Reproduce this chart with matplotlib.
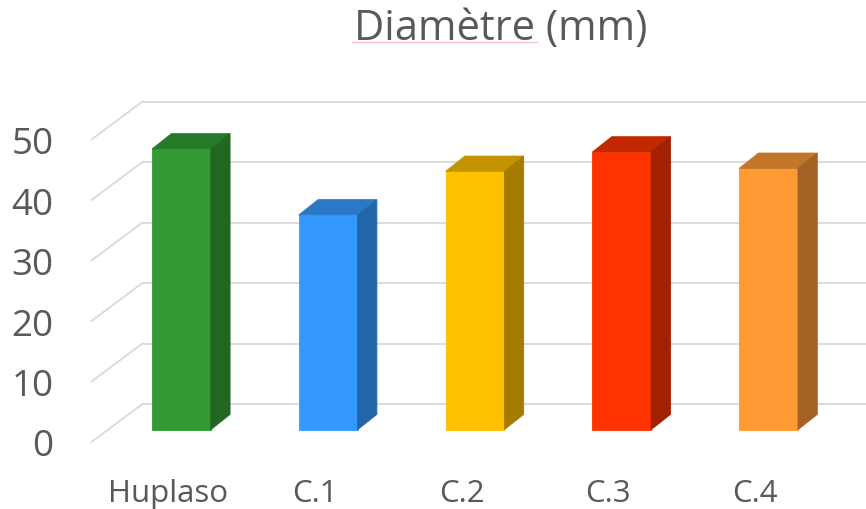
import matplotlib
matplotlib.use("Agg")
import matplotlib.pyplot as plt
from matplotlib.patches import Polygon
from matplotlib.lines import Line2D
from matplotlib.transforms import IdentityTransform

# Data
categories = ["Huplaso", "C.1", "C.2", "C.3", "C.4"]
diameters = [46.4, 35.5, 42.7, 45.9, 43.2]
y_ticks = [0, 10, 20, 30, 40, 50]

front_colors = ["#339933", "#3399ff", "#ffc000", "#ff3300", "#ff9933"]
top_colors = ["#27792a", "#2b79c6", "#c39300", "#c32800", "#c3752a"]
side_colors = ["#226622", "#2265a8", "#a57c00", "#a32000", "#a36223"]

W, H = 866, 510
fig = plt.figure(figsize=(W / 100, H / 100), dpi=100)
fig.patch.set_facecolor("white")

# Axes = the plane holding the front faces of the columns
ax = fig.add_axes([108 / W, 79.3 / H, (842 - 108) / W, 302.5 / H])
ax.set_xlim(-0.5, 4.5)
ax.set_ylim(0, 50)
ax.axis("off")

# Oblique depth shifts in pixels (x right, y up)
FLOOR_FRONT = (-16.5, -12.3)
BAR_DEPTH = (19.3, 15.3)
BACK_WALL = (34.5, 25.7)
BAR_WIDTH = 0.40

GRID = "#d9d9d9"
TEXT = "#595959"
FONT = "Open Sans"


def proj(x, y, shift=(0.0, 0.0)):
    px, py = ax.transData.transform((x, y))
    return (px + shift[0], py + shift[1])


def add_poly(points, color, z):
    fig.add_artist(Polygon(points, closed=True, facecolor=color, edgecolor=color,
                           linewidth=0.6, transform=IdentityTransform(), zorder=z))


def add_line(p0, p1):
    fig.add_artist(Line2D([p0[0], p1[0]], [p0[1], p1[1]], color=GRID, linewidth=1.3,
                          transform=IdentityTransform(), zorder=1))


# Back wall gridlines and left wall diagonals
for v in y_ticks:
    back_left = proj(-0.5, v, BACK_WALL)
    front_left = proj(-0.5, v, FLOOR_FRONT)
    back_right = proj(4.7, v, BACK_WALL)
    add_line(back_left, back_right)
    add_line(front_left, back_left)
    fig.text((front_left[0] - 38) / W, front_left[1] / H, f"{v}", ha="right",
             va="center_baseline", fontsize=26.5, color=TEXT, family=FONT)

# 3D columns
for i, (val, fc, tc, sc) in enumerate(zip(diameters, front_colors, top_colors, side_colors)):
    x0, x1 = i - BAR_WIDTH / 2, i + BAR_WIDTH / 2
    fl, fr = proj(x0, 0), proj(x1, 0)
    tl, tr = proj(x0, val), proj(x1, val)
    btl, btr = proj(x0, val, BAR_DEPTH), proj(x1, val, BAR_DEPTH)
    bbr = proj(x1, 0, BAR_DEPTH)
    add_poly([fl, fr, tr, tl], fc, 3)
    add_poly([tl, tr, btr, btl], tc, 3)
    add_poly([fr, bbr, btr, tr], sc, 3)

# Category labels along the front of the floor
for i, name in enumerate(categories):
    cx, _ = proj(i, 0, FLOOR_FRONT)
    fig.text((cx + 3) / W, 8.3 / H, name, ha="center", va="baseline",
             fontsize=22.5, color=TEXT, family=FONT)

# Title
fig.text(501 / W, 1 - 40 / H, "Diamètre (mm)", ha="center", va="baseline",
         fontsize=30, color=TEXT, family=FONT)
fig.add_artist(Line2D([352 / W, 537 / W], [1 - 43 / H, 1 - 43 / H], color="#f3c4c4",
                      linewidth=1.0, transform=fig.transFigure))

fig.savefig("out.png", dpi=100, facecolor="white")
